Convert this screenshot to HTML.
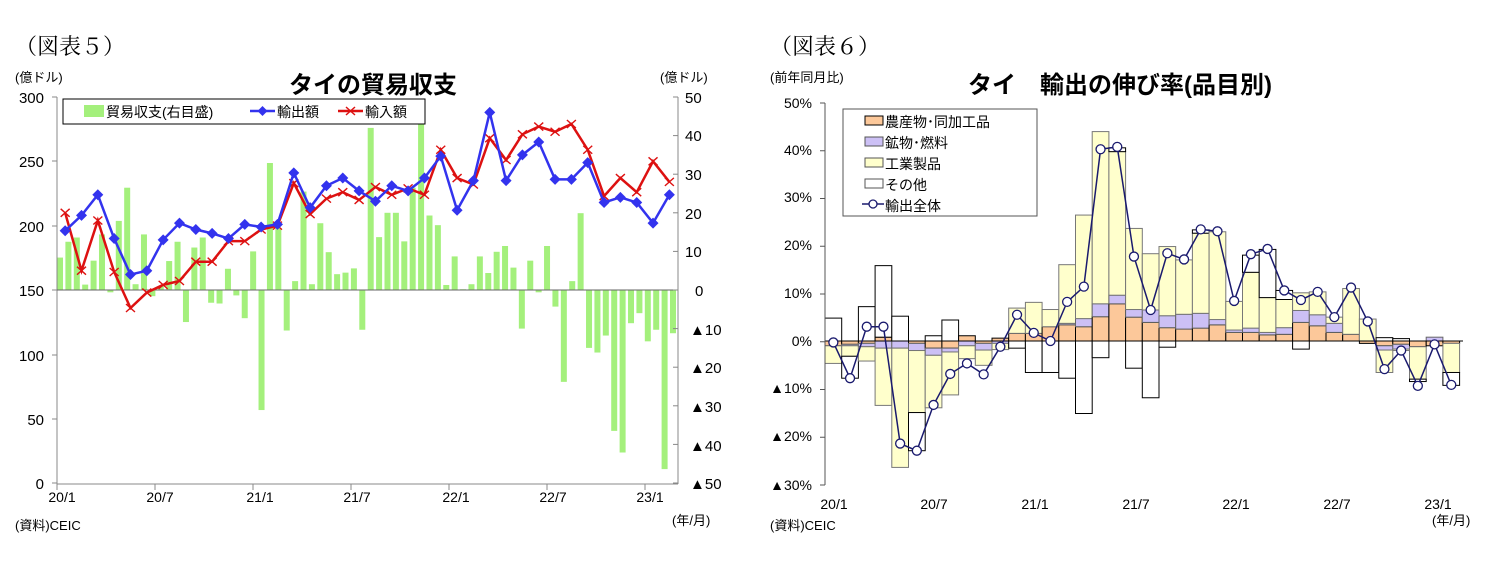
<!DOCTYPE html>
<html><head><meta charset="utf-8"><style>
body{margin:0;background:#fff;width:1503px;height:562px;overflow:hidden;font-family:"Liberation Sans","Noto Sans CJK JP",sans-serif;}
svg{position:absolute;left:0;top:0}
text{font-family:"Liberation Sans","Noto Sans CJK JP",sans-serif;fill:#000}
</style></head><body>
<svg id="s" width="1503" height="562" xmlns="http://www.w3.org/2000/svg">
<text x="15" y="54" font-size="22" style="font-family:'Liberation Serif','Noto Serif CJK SC',serif">（図表５）</text>
<text x="770" y="54" font-size="22" style="font-family:'Liberation Serif','Noto Serif CJK SC',serif">（図表６）</text>
<text x="15" y="82" font-size="13">(億ドル)</text>
<text x="660" y="82" font-size="13">(億ドル)</text>
<text x="373" y="93" font-size="24" text-anchor="middle" font-weight="bold">タイの貿易収支</text>
<g font-size="15" text-anchor="end">
<text x="44" y="103">300</text><text x="44" y="167">250</text><text x="44" y="232">200</text><text x="44" y="296">150</text><text x="44" y="361">100</text><text x="44" y="425">50</text><text x="44" y="489">0</text>
</g>
<g font-size="15">
<text x="685" y="103">50</text><text x="685" y="141">40</text><text x="685" y="180">30</text><text x="685" y="219">20</text><text x="685" y="257">10</text><text x="695" y="296">0</text>
<text x="690" y="335">▲10</text><text x="690" y="373">▲20</text><text x="690" y="412">▲30</text><text x="690" y="451">▲40</text><text x="690" y="489">▲50</text>
</g>
<g font-size="14" text-anchor="middle">
<text x="62" y="502">20/1</text><text x="160" y="502">20/7</text><text x="260" y="502">21/1</text><text x="357" y="502">21/7</text><text x="456" y="502">22/1</text><text x="553" y="502">22/7</text><text x="650" y="502">23/1</text>
</g>
<text x="15" y="530" font-size="13">(資料)CEIC</text>
<text x="672" y="525" font-size="13">(年/月)</text>
<g id="L"></g>
<rect x="63" y="99" width="362" height="25" fill="#fff" stroke="#000" stroke-width="1"/>
<rect x="84" y="105" width="20" height="12" fill="#a4f07c"/>
<text x="106" y="117" font-size="14">貿易収支(右目盛)</text>
<line x1="250" y1="111" x2="275" y2="111" stroke="#3333ee" stroke-width="2.5"/><path d="M262.5 106 L267.5 111 L262.5 116 L257.5 111Z" fill="#3333ee"/>
<text x="277" y="117" font-size="14">輸出額</text>
<line x1="338" y1="111" x2="363" y2="111" stroke="#dd1111" stroke-width="2.5"/><path d="M346 107 l9 8 M355 107 l-9 8" stroke="#dd1111" stroke-width="1.5"/>
<text x="365" y="117" font-size="14">輸入額</text>

<text x="770" y="82" font-size="13">(前年同月比)</text>
<text x="1120" y="93" font-size="24" text-anchor="middle" font-weight="bold">タイ　輸出の伸び率(品目別)</text>
<g font-size="14" text-anchor="end">
<text x="812" y="108">50%</text><text x="812" y="155">40%</text><text x="812" y="202">30%</text><text x="812" y="250">20%</text><text x="812" y="298">10%</text><text x="812" y="346">0%</text><text x="812" y="393">▲10%</text><text x="812" y="441">▲20%</text><text x="812" y="490">▲30%</text>
</g>
<g font-size="14" text-anchor="middle">
<text x="834" y="509">20/1</text><text x="934" y="509">20/7</text><text x="1035" y="509">21/1</text><text x="1136" y="509">21/7</text><text x="1236" y="509">22/1</text><text x="1337" y="509">22/7</text><text x="1438" y="509">23/1</text>
</g>
<text x="770" y="530" font-size="13">(資料)CEIC</text>
<text x="1432" y="525" font-size="13">(年/月)</text>
<g id="R"></g>
<rect x="843" y="109" width="194" height="107" fill="#fff" stroke="#555" stroke-width="1"/>
<g font-size="14">
<rect x="865" y="116" width="18" height="9" fill="#fcc89a" stroke="#000"/><text x="885" y="127">農産物･同加工品</text>
<rect x="865" y="137" width="18" height="9" fill="#ccc0f5" stroke="#555"/><text x="885" y="148">鉱物･燃料</text>
<rect x="865" y="158" width="18" height="9" fill="#ffffcc" stroke="#555"/><text x="885" y="169">工業製品</text>
<rect x="865" y="179" width="18" height="9" fill="#fff" stroke="#555"/><text x="885" y="190">その他</text>
<line x1="862" y1="204" x2="884" y2="204" stroke="#1a1a6e" stroke-width="1.5"/><circle cx="873" cy="204" r="4" fill="#fff" stroke="#1a1a6e" stroke-width="1.3"/><text x="885" y="211">輸出全体</text>
</g>
</svg>
<script>
var NS="http://www.w3.org/2000/svg";
function el(g,t,a){var e=document.createElementNS(NS,t);for(var k in a)e.setAttribute(k,a[k]);g.appendChild(e);return e;}
var L=document.getElementById('L');
var bars=[8.4,12.5,13.6,1.4,7.6,14.4,-0.6,17.9,26.5,1.5,14.4,-1.6,1,7.5,12.5,-8.3,11,13.6,-3.3,-3.5,5.5,-1.4,-7.3,10,-31.1,32.9,16,-10.5,2.3,25.5,1.5,17.3,9.8,4.1,4.5,5.6,-10.3,
42,13.7,20,20,12.6,26.5,44.3,19.3,16.8,1.3,8.7,0.2,1.5,8.7,4.4,9.9,11.4,5.8,-10,7.6,-0.6,11.4,-4.3,-23.8,2.3,19.9,-15,-16.2,-11.8,-36.5,-42.1,-8.6,-6,-13.3,-10.3,-46.4,-11.2];
var n=bars.length,st=(673-60)/(n-1);
bars.forEach(function(v,j){var x=60+j*st,y0=290,y1=290-v*3.86;el(L,'rect',{x:x-3,y:Math.min(y0,y1),width:6,height:Math.abs(y1-y0),fill:'#a4f07c'});});
el(L,'line',{x1:57,y1:97,x2:57,y2:484,stroke:'#888'});
el(L,'line',{x1:678,y1:97,x2:678,y2:484,stroke:'#888'});
el(L,'line',{x1:57,y1:484,x2:678,y2:484,stroke:'#888'});
el(L,'line',{x1:57,y1:290,x2:678,y2:290,stroke:'#666'});
[97,161,226,290,355,419,483].forEach(function(y){el(L,'line',{x1:52,y1:y,x2:57,y2:y,stroke:'#888'});});
for(var k=0;k<11;k++){var y=97+k*38.6;el(L,'line',{x1:673,y1:y,x2:678,y2:y,stroke:'#888'});}
for(var k=0;k<7;k++){var x=57+k*98;el(L,'line',{x1:x,y1:484,x2:x,y2:490,stroke:'#888'});}
var ex=[196,208,224,190,162,165,189,202,197,194,190,201,199,201,241,214,231,237,227,219,231,227,237,254,212,235,288,235,255,265,236,236,249,218,222,218,202,224];
var im=[210,165,204,164,136,148,154,157,172,172,188,188,197,200,233,209,221,226,220,230,224,229,224,259,237,232,268,251,271,277,273,279,259,223,237,226,250,234];
function X(i){return 57+16.33*(i+0.5);}function Y(v){return 483-v*1.2867;}
el(L,'polyline',{points:im.map(function(v,i){return X(i)+','+Y(v)}).join(' '),fill:'none',stroke:'#dd1111','stroke-width':2.5});
im.forEach(function(v,i){var x=X(i),y=Y(v);el(L,'path',{d:'M'+(x-4.5)+' '+(y-4)+'l9 8M'+(x+4.5)+' '+(y-4)+'l-9 8',stroke:'#dd1111','stroke-width':1.4});});
el(L,'polyline',{points:ex.map(function(v,i){return X(i)+','+Y(v)}).join(' '),fill:'none',stroke:'#3333ee','stroke-width':2.5});
ex.forEach(function(v,i){var x=X(i),y=Y(v);el(L,'path',{d:'M'+x+' '+(y-5.5)+'L'+(x+5.5)+' '+y+'L'+x+' '+(y+5.5)+'L'+(x-5.5)+' '+y+'Z',fill:'#3333ee'});});
var R=document.getElementById('R');
var D=[[-1,0,-3.7,4.8,-0.3],[-0.7,-0.3,-2.2,-4.6,-7.8],[-0.5,-0.7,-3,7.2,3],[0.8,-1.5,-12,15,3],[0,-1.5,-25,5.2,-21.5],[-0.5,-1.5,-13,-8,-23],[-1.5,-1.5,-11,1.1,-13.4],[-1.5,-0.8,-9,4.4,-6.9],[1.1,-1,-2.7,0,-4.7],[-0.5,-1.4,-3.2,0,-7],[0.6,-0.5,-1.3,0,-1.2],[1.6,0,5.3,-1.5,5.5],[1.6,0,6.5,-6.6,1.7],[3,0,3.6,-6.6,0],[3.4,0.3,12.3,-7.8,8.2],[3,1.7,21.7,-15.2,11.4],[5.1,2.7,36.1,-3.5,40.2],[7.8,1.8,30.1,0.8,40.7],[5,1.6,17,-5.7,17.7],[3.9,2.6,11.8,-11.9,6.5],[2.8,2.5,14.5,-1.3,18.4],[2.5,3.1,11.4,0,17.1],[2.7,3.1,16.8,0.7,23.4],[3.4,1.1,18.4,0,23],[1.8,0.5,6,0,8.4],[1.8,0.9,11.7,3.6,18.2],[1.3,0.5,7.3,10.1,19.3],[1.4,1.4,5.9,1.9,10.6],[3.9,2.5,3.7,-1.7,8.6],[3.2,2.3,4.8,0,10.3],[1.8,1.9,1.3,0,5],[1.4,0,9.6,0,11.2],[-0.5,0,4.6,0,4.1],[-1,-0.9,-4.7,0.7,-5.9],[-0.7,-1,-0.3,0.5,-2],[-1.2,0,-6.8,-0.5,-9.4],[-1,0.8,0,0,-0.7],[-0.5,0,-6.1,-2.7,-9.2]];
var fills=['#fcc89a','#ccc0f5','#ffffcc','#ffffff'],strokes=['#000','#666','#777','#000'];
function RY(p){return 341-p*4.77;}
D.forEach(function(d,k){var x=825+16.7*k,pos=0,neg=0;for(var s=0;s<4;s++){var v=d[s];if(!v)continue;var a,b;if(v>0){a=pos;pos+=v;b=pos;}else{a=neg;neg+=v;b=neg;}
var y1=RY(Math.max(a,b)),y2=RY(Math.min(a,b));el(R,'rect',{x:x,y:y1,width:16.7,height:y2-y1,fill:fills[s],stroke:strokes[s],'stroke-width':1});}});
el(R,'line',{x1:825,y1:341,x2:1463,y2:341,stroke:'#000'});
el(R,'line',{x1:825,y1:103,x2:825,y2:485,stroke:'#555'});
for(var k=0;k<9;k++){var y=103+k*47.75;el(R,'line',{x1:820,y1:y,x2:825,y2:y,stroke:'#555'});}
var pts=D.map(function(d,k){return (825+16.7*(k+0.5))+','+RY(d[4]);});
el(R,'polyline',{points:pts.join(' '),fill:'none',stroke:'#1a1a6e','stroke-width':1.5});
D.forEach(function(d,k){el(R,'circle',{cx:825+16.7*(k+0.5),cy:RY(d[4]),r:4.5,fill:'#fff',stroke:'#1a1a6e','stroke-width':1.3});});
</script>
</body></html>
